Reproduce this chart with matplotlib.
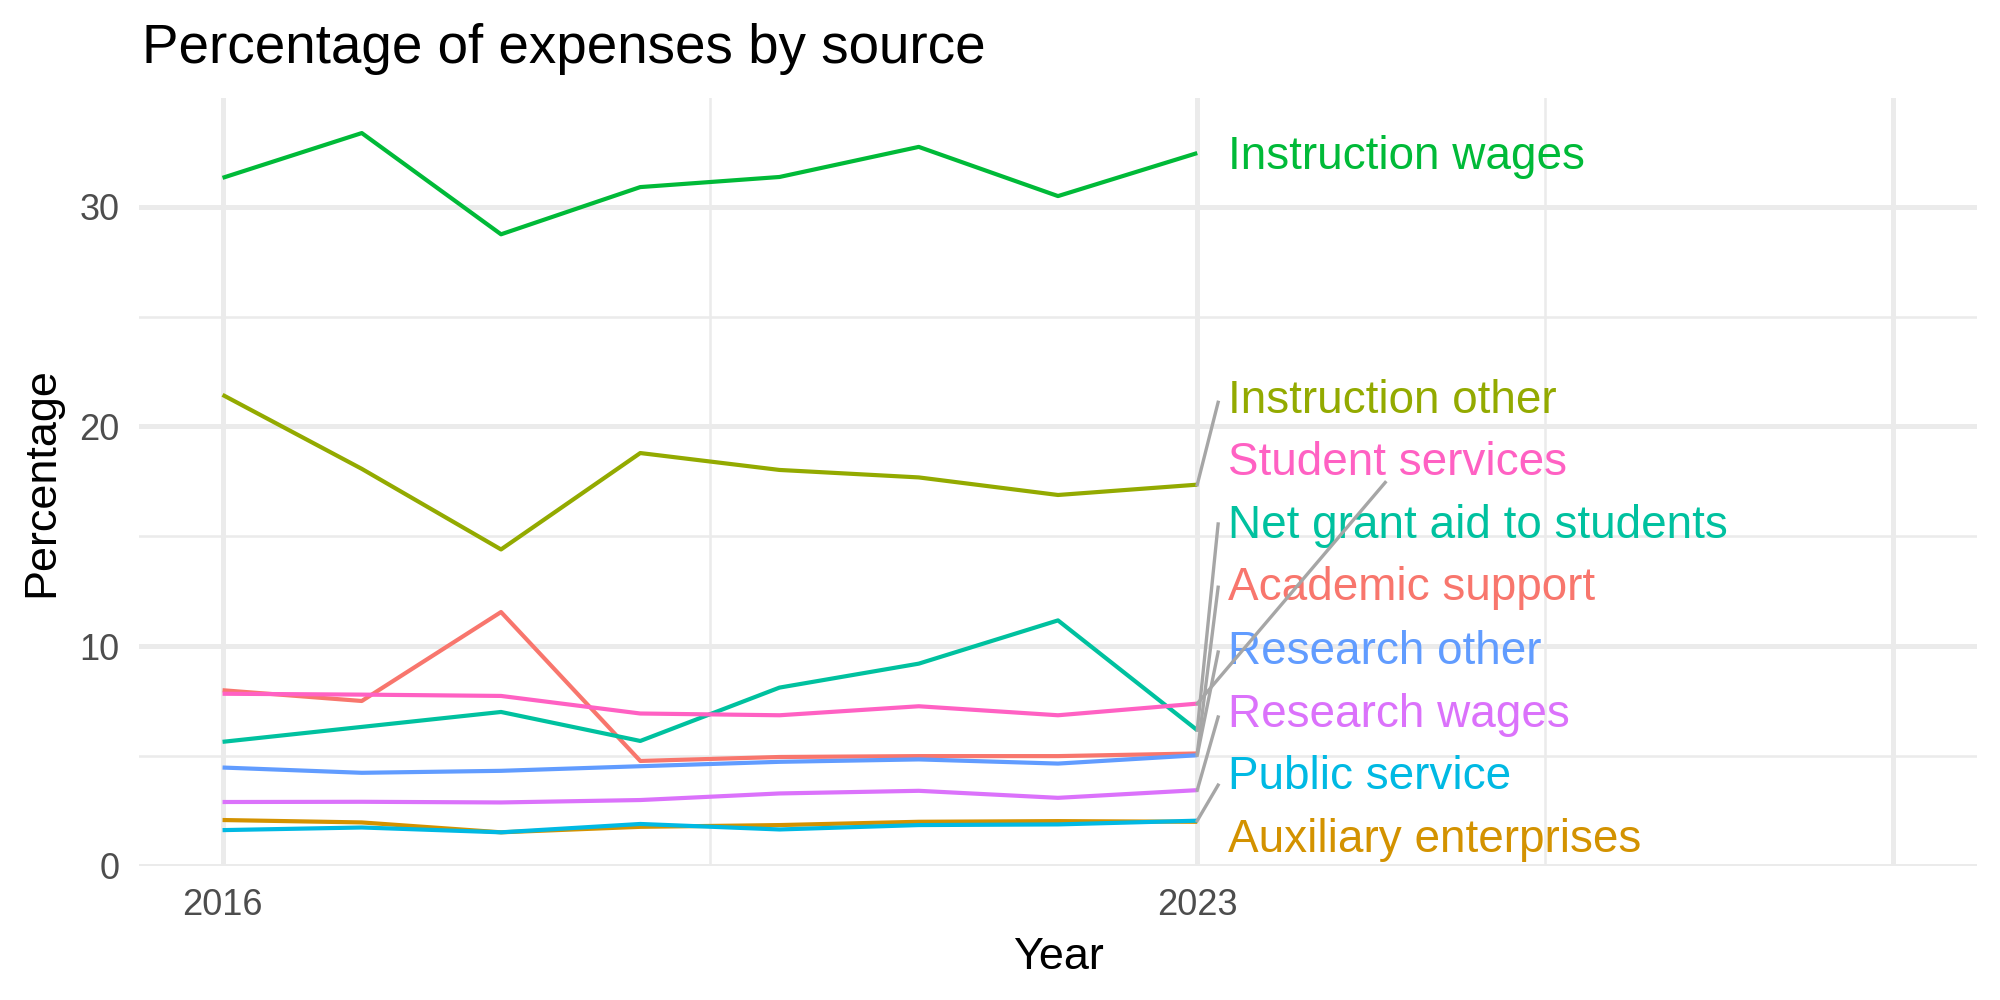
import matplotlib.pyplot as plt
import matplotlib as mpl

plt.rcParams['font.family'] = ['Liberation Sans', 'DejaVu Sans']

years = [2016, 2017, 2018, 2019, 2020, 2021, 2022, 2023]

sources = ["Academic support", "Auxiliary enterprises", "Instruction other",
           "Instruction wages", "Net grant aid to students", "Public service",
           "Research other", "Research wages", "Student services"]

colors = ["#F8766D", "#D39200", "#93AA00", "#00BA38", "#00C19F",
          "#00B9E3", "#619CFF", "#DB72FB", "#FF61C3"]

academic_support = [7.99, 7.50, 11.55, 4.77, 4.95, 4.99, 4.99, 5.11]
auxiliary_enterprises = [2.08, 1.97, 1.52, 1.77, 1.85, 2.00, 2.03, 2.00]
instruction_other = [21.44, 18.07, 14.40, 18.79, 18.02, 17.68, 16.88, 17.35]
instruction_wages = [31.32, 33.36, 28.75, 30.90, 31.36, 32.73, 30.49, 32.45]
net_grant_aid = [5.64, 6.32, 7.00, 5.68, 8.11, 9.20, 11.17, 6.17]
public_service = [1.62, 1.74, 1.52, 1.90, 1.65, 1.85, 1.88, 2.05]
research_other = [4.47, 4.23, 4.32, 4.53, 4.73, 4.84, 4.65, 5.03]
research_wages = [2.90, 2.91, 2.88, 2.99, 3.29, 3.41, 3.09, 3.44]
student_services = [7.83, 7.79, 7.73, 6.93, 6.85, 7.26, 6.85, 7.38]

series = [academic_support, auxiliary_enterprises, instruction_other,
          instruction_wages, net_grant_aid, public_service,
          research_other, research_wages, student_services]

# repelled label placement (baseline of each label) and leader line ends
label_x = 2023.22
label_y = [12.08, 0.64, 20.62, 31.71, 14.93, 3.47, 9.20, 6.32, 17.81]
seg_x = [2023.15, None, 2023.15, None, 2023.15, 2023.15, 2023.15, 2023.15, 2024.35]
seg_dy = [0.60, 0, 0.48, 0, 0.63, 0.20, 0.53, 0.45, -0.36]

fig = plt.figure(figsize=(10, 5), dpi=200, facecolor="white")
ax = fig.add_axes([0.0695, 0.1343, 0.919, 0.768])

for vals, col in zip(series, colors):
    ax.plot(years, vals, color=col, lw=1.5, solid_capstyle="butt", zorder=3)

for name, vals, col, ly, sx, dy in zip(sources, series, colors, label_y, seg_x, seg_dy):
    if sx is not None:
        ax.plot([years[-1], sx], [vals[-1], ly + dy], color="#A6A6A6", lw=1.2, zorder=5)
    ax.text(label_x, ly, name, color=col, fontsize=16.5, va="baseline", ha="left", zorder=4)

ax.set_xlim(2015.4, 2028.6)
ax.set_ylim(0, 34.97)

ax.set_xticks([2016, 2023, 2028])
ax.set_xticklabels(["2016", "2023", ""])
ax.set_xticks([2019.5, 2025.5], minor=True)
ax.set_yticks([0, 10, 20, 30])
ax.set_yticks([5, 15, 25], minor=True)

ax.grid(which="major", color="#EBEBEB", lw=1.8)
ax.grid(which="minor", color="#EBEBEB", lw=0.9)
ax.set_axisbelow(True)
ax.tick_params(which="both", length=0)
ax.tick_params(axis="y", labelsize=13, labelcolor="#4D4D4D", pad=7)
ax.tick_params(axis="x", labelsize=13, labelcolor="#4D4D4D", pad=8)
for s in ax.spines.values():
    s.set_visible(False)

ax.set_xlabel("Year", fontsize=16.2, labelpad=5)
ax.set_ylabel("Percentage", fontsize=16.2, labelpad=6)

fig.text(0.0708, 0.937, "Percentage of expenses by source", fontsize=19.7,
         va="baseline", ha="left")

fig.savefig("out.png", dpi=200, facecolor="white")
